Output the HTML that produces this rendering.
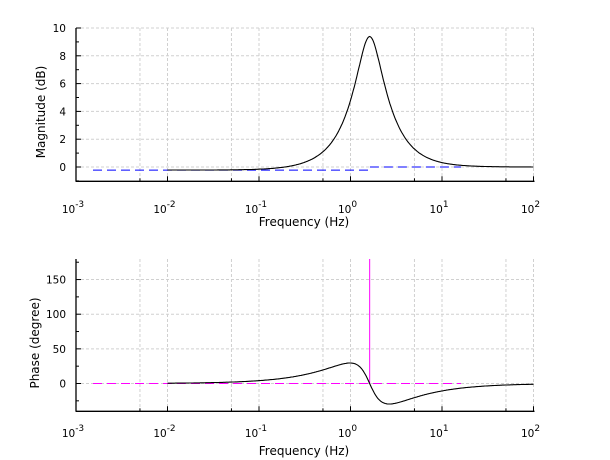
<!DOCTYPE html>
<html><head><meta charset="utf-8"><style>
html,body{margin:0;padding:0;background:#fff;}
svg{display:block;font-family:"DejaVu Sans","Liberation Sans",sans-serif;}
</style></head><body>
<svg id="s" width="610" height="460" xmlns="http://www.w3.org/2000/svg"></svg>
<script>
var s=document.getElementById('s');
var X0=76,X1=533.5,dec=(X1-X0)/5;
function fx(f){return X0+dec*(Math.log10(f)+3);}
var h='';
function line(x1,y1,x2,y2,st){h+='<line x1="'+x1+'" y1="'+y1+'" x2="'+x2+'" y2="'+y2+'" '+st+'/>';}
function axes(top,bot,yt,ymap,labs,minor,ylab,lx,ly,fl){
  var gs='stroke="#d0d0d0" stroke-width="1" stroke-dasharray="3,2"';
  for(var k=-3;k<=2;k++){
    [1,5].forEach(function(m){var f=m*Math.pow(10,k);if(f>100||f<0.001)return;var x=fx(f);
      if(x>X0+1)line(x,top,x,bot,gs);
      line(x,bot,x,bot-(m==1?5:3),'stroke="#000"');});
    h+='<text x="'+(fx(Math.pow(10,k))-3)+'" y="'+(fl)+'" font-size="10.5" text-anchor="middle">10<tspan dy="-6" font-size="9">'+k+'</tspan></text>';
  }
  yt.forEach(function(v,i){var y=ymap(v);if(v>=labs[0])line(X0,y,X1,y,gs);line(X0,y,X0+5,y,'stroke="#000"');
    h+='<text x="66" y="'+(y+4)+'" font-size="10.5" text-anchor="end">'+v+'</text>';});
  minor.forEach(function(v){var y=ymap(v);line(X0,y,X0+3,y,'stroke="#000"');});
  line(X0,top,X0,bot+0.5,'stroke="#000" stroke-width="1.3"');
  line(X0,bot,X1+1,bot,'stroke="#000" stroke-width="1.3"');
  h+='<text x="'+lx+'" y="'+ly+'" font-size="12" text-anchor="middle" transform="rotate(-90 '+lx+' '+ly+')">'+ylab+'</text>';
}
var my=function(v){return 167-13.9*v;};
axes(28,181.3,[0,2,4,6,8,10],my,[0],[-1,1,3,5,7,9],'Magnitude (dB)',45,112,213);
h+='<text x="304" y="226" font-size="12" text-anchor="middle">Frequency (Hz)</text>';
var py=function(v){return 383.5-0.693*v;};
axes(259,411.3,[0,50,100,150],py,[0],[-25,25,75,125,175],'Phase (degree)',39,343,437);
h+='<text x="304" y="455" font-size="12" text-anchor="middle">Frequency (Hz)</text>';
var w=1.62,z1=0.885,z2=0.3,pm='',pp='';
for(var i=0;i<=400;i++){
  var f=Math.pow(10,-2+4*i/400),r=f/w;
  var re=1-r*r;
  var m=0.5*Math.log10((re*re+4*z1*z1*r*r)/(re*re+4*z2*z2*r*r))*20;
  m+=-0.22/(1+Math.pow(f/0.35,2));
  var p=(Math.atan2(2*z1*r,re)-Math.atan2(2*z2*r,re))*180/Math.PI;
  pm+=(i?'L':'M')+fx(f).toFixed(1)+','+my(m).toFixed(1);
  pp+=(i?'L':'M')+fx(f).toFixed(1)+','+py(p).toFixed(1);
}
var xs=fx(w);
h+='<path d="M93,170.1L'+xs+',170.1L'+xs+',167L461,167" fill="none" stroke="#0000ff" stroke-width="1" stroke-dasharray="9,5"/>';
h+='<path d="'+pm+'" fill="none" stroke="#000" stroke-width="1.1"/>';
h+='<path d="M93,383.5L461,383.5" fill="none" stroke="#ff00ff" stroke-width="1" stroke-dasharray="9,5"/>';
line(xs,259,xs,383.5,'stroke="#ff00ff" stroke-width="1"');
h+='<path d="'+pp+'" fill="none" stroke="#000" stroke-width="1.1"/>';
s.innerHTML=h;
</script>
</body></html>
